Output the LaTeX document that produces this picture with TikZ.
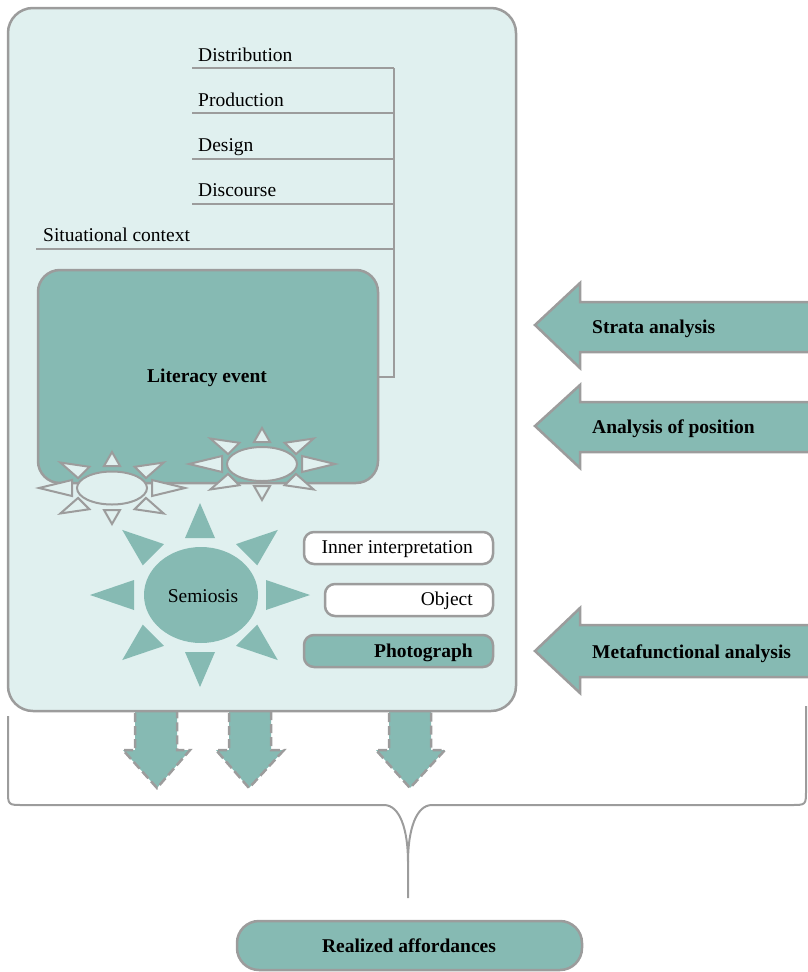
\documentclass[tikz,border=0pt]{standalone}
\usepackage{fontspec}
\setmainfont{Liberation Serif}
\usetikzlibrary{shapes.geometric}
\definecolor{tealfill}{HTML}{86BAB3}
\definecolor{lightfill}{HTML}{E0F0EF}
\definecolor{linegray}{HTML}{9C9C9C}
\begin{document}
\begin{tikzpicture}[x=1pt,y=-1pt,
  font=\fontsize{19.5}{23}\selectfont,
  boxline/.style={draw=linegray, line width=2.5pt},
  stratline/.style={draw=linegray, line width=2pt},
  lbl/.style={anchor=base west, inner sep=0pt},
  rlbl/.style={anchor=base east, inner sep=0pt},
  smallbox/.style={boxline, rounded corners=10pt, minimum height=32pt, inner sep=0pt},
  bigarrow/.style={boxline, fill=tealfill, line join=miter},
  downarrow/.style={draw=linegray, line width=2.5pt, dash pattern=on 9pt off 4pt, fill=tealfill},
  sunray/.style={draw=linegray, line width=2pt, fill=lightfill},
]
\useasboundingbox (0,0) rectangle (807,972);

% dashed down arrows (drawn under main box)
\draw[downarrow] (135,700) -- (135,750) -- (123,750) -- (157,788) -- (190,750) -- (177,750) -- (177,700);
\draw[downarrow] (229,700) -- (229,750) -- (216,750) -- (249,788) -- (284,750) -- (271,750) -- (271,700);
\draw[downarrow] (389,700) -- (389,750) -- (376,750) -- (410,788) -- (445,750) -- (431,750) -- (431,700);

% main box
\node[boxline, fill=lightfill, rounded corners=25pt, minimum width=508pt, minimum height=703pt, inner sep=0pt] (main) at (262,359.5) {};

% strata lines
\coordinate (v1) at (394,68);
\coordinate (v2) at (394,113);
\coordinate (v3) at (394,159);
\coordinate (v4) at (394,204);
\coordinate (v5) at (394,249);
\coordinate (s1) at (192,68);
\coordinate (s2) at (192,113);
\coordinate (s3) at (192,159);
\coordinate (s4) at (192,204);
\coordinate (s5) at (36,249);
\draw[stratline] (s1) -- (v1);
\draw[stratline] (s2) -- (v2);
\draw[stratline] (s3) -- (v3);
\draw[stratline] (s4) -- (v4);
\draw[stratline] (s5) -- (v5);
\node[lbl] (tdist) at (198,61) {Distribution};
\node[lbl] (tprod) at (198,106) {Production};
\node[lbl] (tdes) at (198,151) {Design};
\node[lbl] (tdisc) at (198,196) {Discourse};
\node[lbl] (tsit) at (43,241) {Situational context};

% literacy event
\node[boxline, fill=tealfill, rounded corners=22pt, minimum width=340pt, minimum height=213pt, inner sep=0pt] (lit) at (208,376.5) {};
\node[font=\fontsize{19.5}{23}\selectfont\bfseries] (littext) at (207,378) {Literacy event};
\draw[stratline] (v1) |- (lit.east);

% small suns
\begin{scope}[shift={(112,488)}]
  \foreach \a in {0,45,...,315}{
    \draw[sunray] ({40*cos(\a)-8*sin(\a)},{22*sin(\a)+8*cos(\a)}) -- ({73*cos(\a)},{36*sin(\a)}) -- ({40*cos(\a)+8*sin(\a)},{22*sin(\a)-8*cos(\a)}) -- cycle;
  }
\end{scope}
\node[ellipse, draw=linegray, line width=2pt, fill=lightfill, minimum width=70pt, minimum height=33pt, inner sep=0pt] (sunA) at (112,488) {};
\begin{scope}[shift={(262,464)}]
  \foreach \a in {0,45,...,315}{
    \draw[sunray] ({40*cos(\a)-8*sin(\a)},{22*sin(\a)+8*cos(\a)}) -- ({73*cos(\a)},{36*sin(\a)}) -- ({40*cos(\a)+8*sin(\a)},{22*sin(\a)-8*cos(\a)}) -- cycle;
  }
\end{scope}
\node[ellipse, draw=linegray, line width=2pt, fill=lightfill, minimum width=70pt, minimum height=34pt, inner sep=0pt] (sunB) at (262,464) {};

% semiosis sun
\begin{scope}[shift={(200,595)}]
  \foreach \a in {0,45,...,315}{
    \fill[tealfill] ({66*cos(\a)-15*sin(\a)},{57*sin(\a)+15*cos(\a)}) -- ({110*cos(\a)},{92*sin(\a)}) -- ({66*cos(\a)+15*sin(\a)},{57*sin(\a)-15*cos(\a)}) -- cycle;
  }
\end{scope}
\node[ellipse, fill=tealfill, minimum width=114pt, minimum height=96pt, inner sep=0pt] (semi) at (201,595) {};
\node (semitext) at (203,596) {Semiosis};

% right boxes
\node[smallbox, fill=white, minimum width=189pt] (inner) at (398.5,548) {};
\node[rlbl] (innertext) at (473,553) {Inner interpretation};
\node[smallbox, fill=white, minimum width=168pt] (obj) at (409,600) {};
\node[rlbl] (objtext) at (473,605) {Object};
\node[smallbox, fill=tealfill, minimum width=189pt] (photo) at (398.5,651) {};
\node[rlbl, font=\fontsize{19.5}{23}\selectfont\bfseries] (phototext) at (473,657) {Photograph};

% big left arrows
\draw[bigarrow] (535,325) -- (580,283) -- (580,302) -- (830,302) -- (830,352) -- (580,352) -- (580,368) -- cycle;
\node[lbl, font=\fontsize{19.5}{23}\selectfont\bfseries] (strata) at (592,333) {Strata analysis};
\draw[bigarrow] (535,426) -- (580,385) -- (580,402) -- (830,402) -- (830,452) -- (580,452) -- (580,468) -- cycle;
\node[lbl, font=\fontsize{19.5}{23}\selectfont\bfseries] (position) at (592,433) {Analysis of position};
\draw[bigarrow] (535,651) -- (580,608) -- (580,625) -- (830,625) -- (830,677) -- (580,677) -- (580,693) -- cycle;
\node[lbl, font=\fontsize{19.5}{23}\selectfont\bfseries] (meta) at (592,658) {Metafunctional analysis};

% brace
\coordinate (bl) at (8,716);
\coordinate (br) at (806,706);
\coordinate (btip) at (408,862);
\coordinate (bend) at (408,898);
\draw[stratline] (bl) -- (8,790) .. controls (8,805) and (8,805) .. (23,805) -- (384,805) .. controls (400,805) and (408,830) .. (btip) -- (bend);
\draw[stratline] (br) -- (806,790) .. controls (806,805) and (806,805) .. (791,805) -- (432,805) .. controls (416,805) and (408,830) .. (btip);

% realized affordances
\node[boxline, fill=tealfill, rounded corners=22pt, minimum width=345pt, minimum height=49pt, inner sep=0pt] (real) at (409.5,945.5) {};
\node[font=\fontsize{19.5}{23}\selectfont\bfseries] (realtext) at (409,946) {Realized affordances};
\end{tikzpicture}
\end{document}
